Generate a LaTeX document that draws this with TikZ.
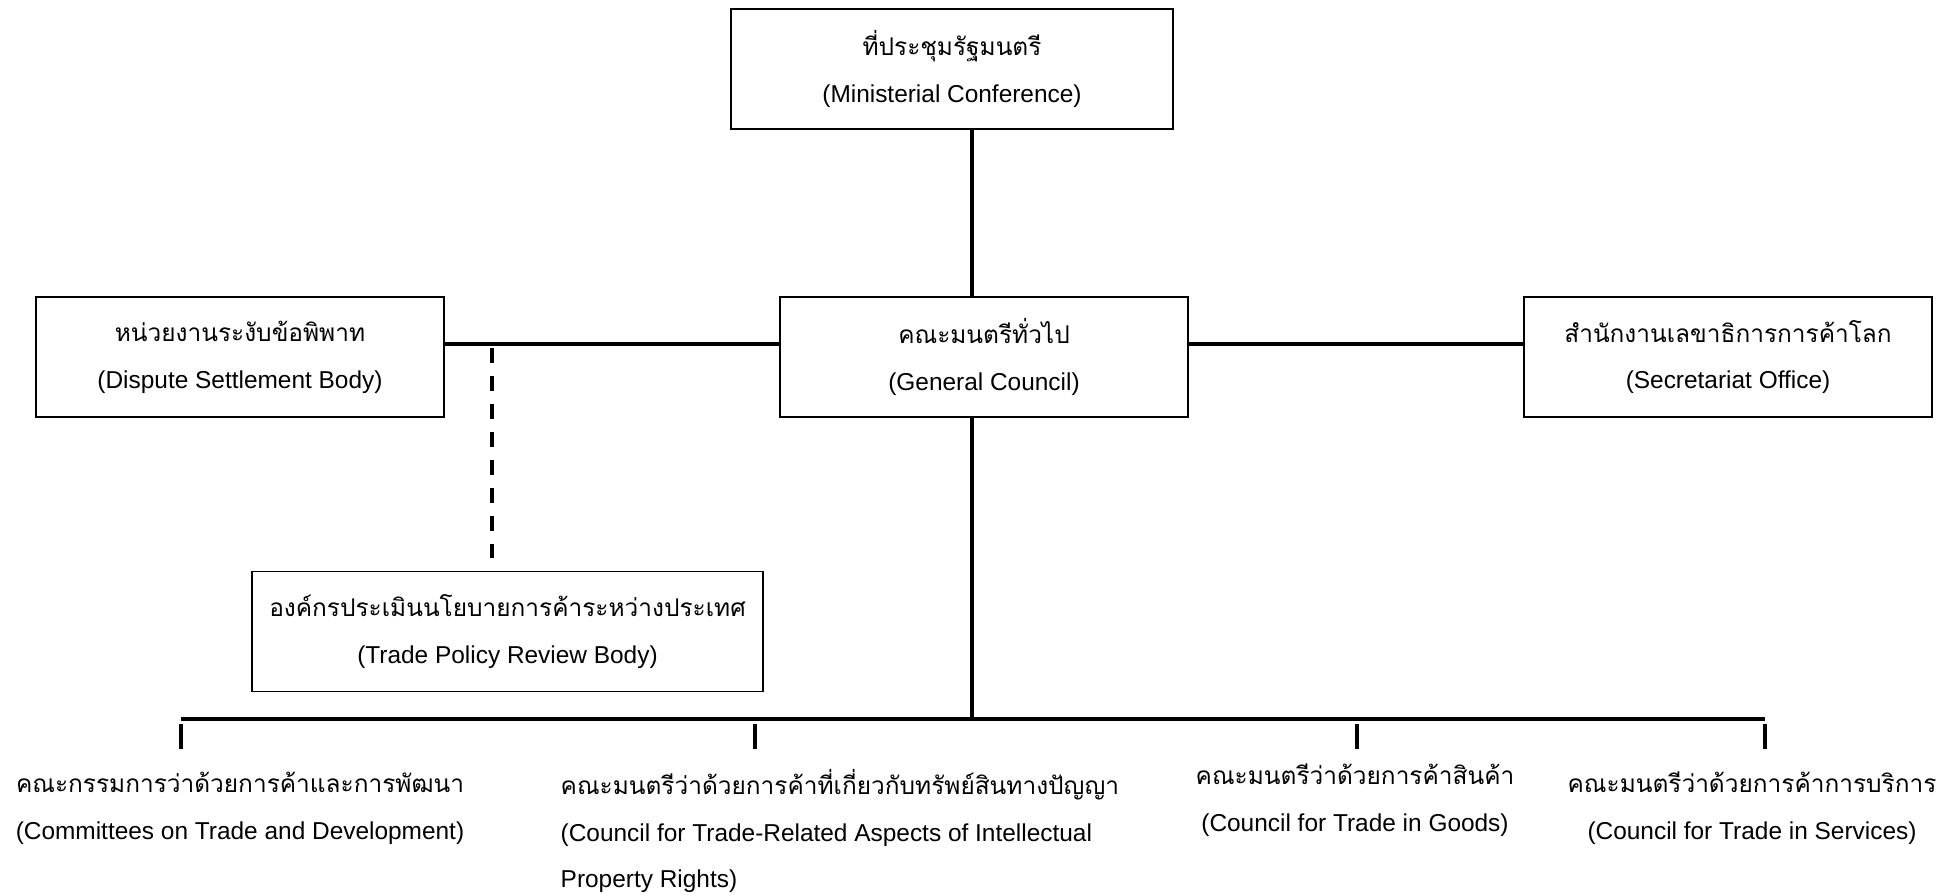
\documentclass[tikz,border=0pt]{standalone}
\usepackage{fontspec}
\setmainfont{Liberation Sans}
\newfontfamily\thaifont[Script=Thai]{Loma}
\usetikzlibrary{calc}

\tikzset{
  orgbox/.style={draw, line width=0.55pt, minimum height=1.2cm, align=center, inner sep=0pt},
  link/.style={line width=0.95pt},
  lbl/.style={align=center, inner sep=0pt}
}

\begin{document}
\begin{tikzpicture}[font=\fontsize{6.95}{13.3}\selectfont]
	\useasboundingbox (0,0) rectangle (19.57,8.94);
	%top
	\node [orgbox, minimum width=4.42cm] (mc) at (9.52,8.25) {{\thaifont ที่ประชุมรัฐมนตรี}\\(Ministerial Conference)};
	%middle row
	\node [orgbox, minimum width=4.08cm] (gc) at (9.84,5.37) {{\thaifont คณะมนตรีทั่วไป}\\(General Council)};
	\node [orgbox, minimum width=4.08cm] (dsb) at (2.40,5.37) {{\thaifont หน่วยงานระงับข้อพิพาท}\\(Dispute Settlement Body)};
	\node [orgbox, minimum width=4.08cm] (sec) at (17.28,5.37) {{\thaifont สำนักงานเลขาธิการการค้าโลก}\\(Secretariat Office)};
	\node [orgbox, minimum width=5.11cm] (tprb) at (5.075,2.625) {{\thaifont องค์กรประเมินนโยบายการค้าระหว่างประเทศ}\\(Trade Policy Review Body)};
	%councils
	\node [lbl] (ctd) at (2.40,0.86) {{\thaifont คณะกรรมการว่าด้วยการค้าและการพัฒนา}\\(Committees on Trade and Development)};
	\node [lbl, align=left, anchor=west] (trips) at (5.60,0.63) {{\thaifont คณะมนตรีว่าด้วยการค้าที่เกี่ยวกับทรัพย์สินทางปัญญา}\\(Council for Trade-Related Aspects of Intellectual\\Property Rights)};
	\node [lbl] (ctg) at (13.55,0.94) {{\thaifont คณะมนตรีว่าด้วยการค้าสินค้า}\\(Council for Trade in Goods)};
	\node [lbl] (cts) at (17.52,0.86) {{\thaifont คณะมนตรีว่าด้วยการค้าการบริการ}\\(Council for Trade in Services)};
	%links
	\coordinate (spine) at (9.72,5.50);
	\coordinate (tp) at (4.92,5.46);
	\coordinate (bus) at (9.72,1.75);
	\coordinate (busl) at (1.81,1.75);
	\coordinate (busr) at (17.65,1.75);
	\draw [link] (mc.south -| spine) -- (gc.north -| spine);
	\draw [link] (dsb.east |- spine) -- (gc.west |- spine);
	\draw [link] (gc.east |- spine) -- (sec.west |- spine);
	\draw [line width=1.1pt, dash pattern=on 0.15cm off 0.13cm, shorten >=0.13cm] (tp) -- (tp |- tprb.north);
	\draw [link] (gc.south -| spine) -- (bus);
	\draw [line width=1.3pt] (busl) -- (busr);
	\foreach \x in {1.81,7.55,13.57,17.65}
		\draw [link] (\x,1.70) -- (\x,1.45);
\end{tikzpicture}
\end{document}
